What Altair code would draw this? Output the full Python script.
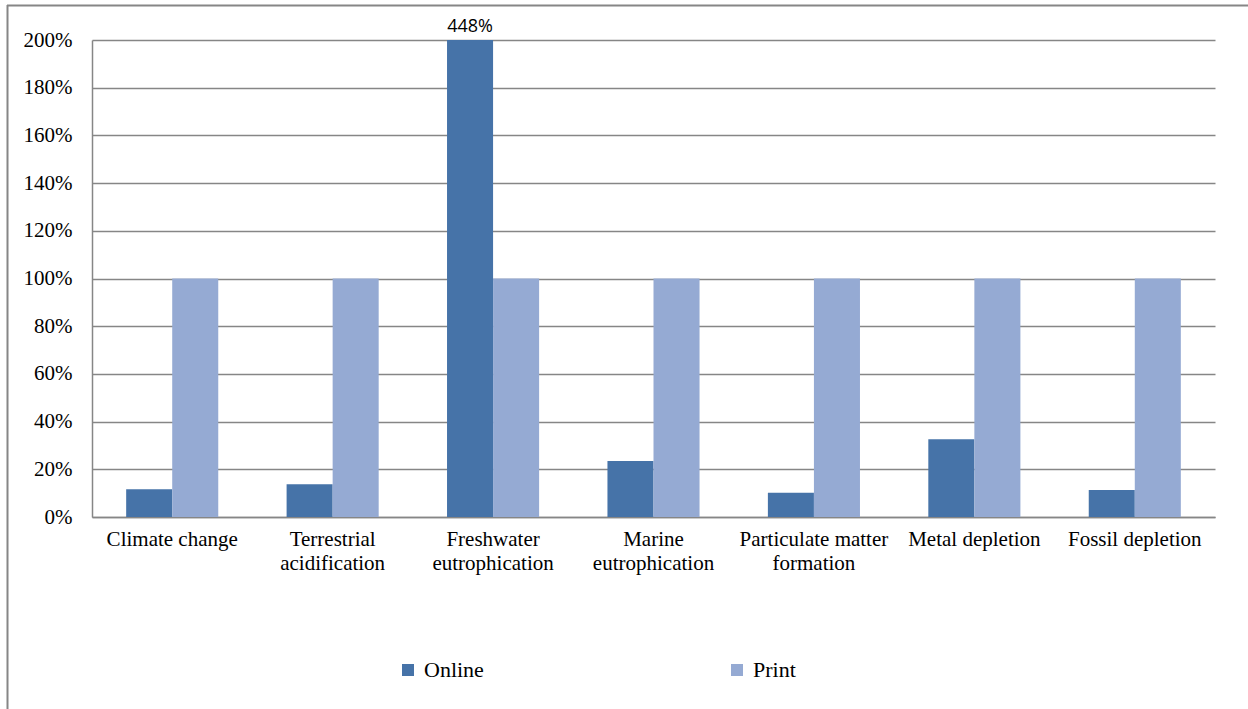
import altair as alt
import pandas as pd

# Impact categories (a "\n" marks where the axis label wraps)
categories = [
    "Climate change",
    "Terrestrial\nacidification",
    "Freshwater\neutrophication",
    "Marine\neutrophication",
    "Particulate matter\nformation",
    "Metal depletion",
    "Fossil depletion",
]
series = ["Online", "Print"]
online_values = [0.116, 0.137, 4.48, 0.235, 0.102, 0.326, 0.113]
print_values = [1.0, 1.0, 1.0, 1.0, 1.0, 1.0, 1.0]
y_ticks = [0, 0.2, 0.4, 0.6, 0.8, 1.0, 1.2, 1.4, 1.6, 1.8, 2.0]
colors = ["#4673A8", "#95AAD3"]

rows = []
for cat, on, pr in zip(categories, online_values, print_values):
    rows.append({"category": cat, "medium": "Online", "value": on})
    rows.append({"category": cat, "medium": "Print", "value": pr})
df = pd.DataFrame(rows)

grid = "#868686"
serif = "Liberation Serif"

x_enc = alt.X(
    "category:N",
    sort=categories,
    scale=alt.Scale(paddingInner=0.426, paddingOuter=0.213),
    axis=alt.Axis(
        title=None,
        labelAngle=0,
        labelExpr="split(datum.value, '\\n')",
        labelFont=serif,
        labelFontSize=21,
        labelColor="#000000",
        labelLineHeight=24,
        labelPadding=11,
        ticks=False,
        domainColor=grid,
        domainWidth=1.5,
        labelLimit=300,
    ),
)
xoff_enc = alt.XOffset(
    "medium:N", sort=series, scale=alt.Scale(paddingInner=0, paddingOuter=0)
)
y_enc = alt.Y(
    "value:Q",
    scale=alt.Scale(domain=[0, 2], clamp=True, nice=False),
    axis=alt.Axis(
        title=None,
        values=y_ticks,
        format=".0%",
        labelFont=serif,
        labelFontSize=21,
        labelColor="#000000",
        labelPadding=20,
        ticks=False,
        grid=True,
        gridColor=grid,
        gridWidth=1.5,
        domainColor=grid,
        domainWidth=1.5,
    ),
)

bars = alt.Chart(df).mark_bar().encode(
    x=x_enc,
    xOffset=xoff_enc,
    y=y_enc,
    color=alt.Color(
        "medium:N",
        scale=alt.Scale(domain=series, range=colors),
        legend=alt.Legend(
            title=None,
            orient="none",
            legendX=305,
            legendY=619,
            direction="horizontal",
            symbolType="square",
            symbolSize=144,
            symbolStrokeWidth=0,
            labelFont=serif,
            labelFontSize=22,
            labelColor="#000000",
            labelOffset=5,
            columnPadding=242,
            padding=0,
        ),
    ),
)

# Value label for a bar that runs past the top of the axis
overflow = (
    alt.Chart(df)
    .transform_filter("datum.value > 2")
    .transform_calculate(label="format(datum.value, '.0%')")
    .mark_text(font="Open Sans", fontSize=18, baseline="alphabetic", dy=-8, color="#000000")
    .encode(x=alt.X("category:N", sort=categories), xOffset=xoff_enc, y=y_enc, text="label:N")
)

frame_src = pd.DataFrame({"k": [0]})
frame_top = alt.Chart(frame_src).mark_rule(color=grid, strokeWidth=2).encode(
    x=alt.value(-85), x2=alt.value(1160), y=alt.value(-34.5)
)
frame_left = alt.Chart(frame_src).mark_rule(color=grid, strokeWidth=2).encode(
    x=alt.value(-84.5), y=alt.value(-35), y2=alt.value(675)
)

chart = (
    alt.layer(bars, overflow, frame_top, frame_left)
    .properties(
        width=1123,
        height=477,
        autosize=alt.AutoSizeParams(type="none"),
        padding={"left": 92, "top": 40, "right": 33, "bottom": 192},
        background="#ffffff",
    )
    .configure(font=serif)
    .configure_view(stroke=None)
    .configure_legend(labelFont=serif, labelFontSize=22, labelColor="#000000")
)

chart.save("out.html", embed_options={"renderer": "svg", "actions": False})
